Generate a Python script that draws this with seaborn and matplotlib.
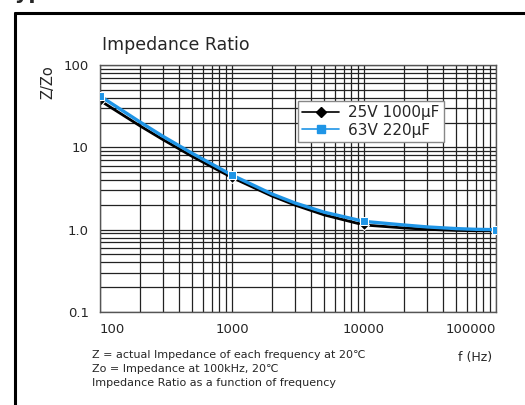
import matplotlib
matplotlib.use("Agg")
import matplotlib.pyplot as plt
from matplotlib.lines import Line2D
import seaborn as sns
import pandas as pd

# values
freq = [100, 200, 300, 500, 1000, 2000, 3000, 5000, 10000, 20000, 30000, 50000, 70000, 100000]
z_25v = [37, 18.3, 12.4, 7.75, 4.3, 2.57, 1.99, 1.51, 1.14, 1.05, 1.01, 0.98, 0.97, 0.97]
z_63v = [42, 20.4, 13.6, 8.45, 4.6, 2.72, 2.11, 1.63, 1.26, 1.14, 1.08, 1.03, 1.01, 1.0]
marker_freq = [100, 1000, 10000, 100000]
series_names = ['25V 1000µF', '63V 220µF']
x_ticks = [100, 1000, 10000, 100000]
x_labels = ['100', '1000', '10000', '100000']
y_ticks = [0.1, 1, 10, 100]
y_labels = ['0.1', '1.0', '10', '100']

df = pd.DataFrame({
    'f': freq * 2,
    'z': z_25v + z_63v,
    'series': [series_names[0]] * len(freq) + [series_names[1]] * len(freq),
})

sns.set_style('white')
plt.rcParams['font.family'] = ['DejaVu Sans']

fig = plt.figure(figsize=(5.25, 4.05), dpi=100)
ax = fig.add_axes([100 / 525, 1 - 312 / 405, 396 / 525, 247 / 405])

palette = {series_names[0]: 'black', series_names[1]: '#1f95e6'}
sns.lineplot(data=df, x='f', y='z', hue='series', palette=palette, ax=ax,
             legend=False, sort=True, estimator=None)
lines = ax.get_lines()
lines[0].set_linewidth(2.0)
lines[1].set_linewidth(2.4)
lines[1].set_zorder(4)
mk = [freq.index(v) for v in marker_freq]
lines[0].set_marker('D')
lines[0].set_markersize(5)
lines[0].set_markevery(mk)
lines[1].set_marker('s')
lines[1].set_markersize(6)
lines[1].set_markevery(mk)

ax.set_xscale('log')
ax.set_yscale('log')
ax.set_xlim(100, 100000)
ax.set_ylim(0.1, 100)
ax.grid(True, which='both', color='#222222', linewidth=0.9)
ax.set_axisbelow(True)
for s in ax.spines.values():
    s.set_color('#555555')
    s.set_linewidth(1.0)

ax.set_xticks(x_ticks)
ax.set_xticklabels(x_labels, fontsize=9.5)
ax.set_yticks(y_ticks)
ax.set_yticklabels(y_labels, fontsize=9.5)
ax.tick_params(axis='both', which='both', length=0, pad=8)
xl = ax.get_xticklabels()
xl[0].set_horizontalalignment('left')
xl[-1].set_horizontalalignment('right')
ax.set_xlabel('')
ax.set_ylabel('')

handles = [
    Line2D([], [], color='black', marker='D', markersize=5, linewidth=1.2),
    Line2D([], [], color='#1f95e6', marker='s', markersize=6, linewidth=1.2),
]
leg = ax.legend(handles, series_names, loc='upper left',
                bbox_to_anchor=(190 / 396, 1 - 28 / 247), fontsize=11,
                frameon=True, fancybox=False, framealpha=1, edgecolor='#888888',
                handlelength=2.4, borderpad=0.3, labelspacing=0.15, handletextpad=0.6)
leg.get_frame().set_linewidth(1.0)
leg.set_zorder(6)

fig.text(102 / 525, 1 - 50 / 405, 'Impedance Ratio', fontsize=12.5, va='baseline', ha='left')
fig.text(48 / 525, 1 - 82 / 405, 'Z/Zo', fontsize=10.5, rotation=90, va='center', ha='center')
fig.text(458 / 525, 1 - 357 / 405, 'f (Hz)', fontsize=9, va='center', ha='left')
fig.text(92 / 525, 1 - 355 / 405, 'Z = actual Impedance of each frequency at 20\u2103',
         fontsize=8, va='center', ha='left')
fig.text(92 / 525, 1 - 369 / 405, 'Zo = Impedance at 100kHz, 20\u2103',
         fontsize=8, va='center', ha='left')
fig.text(92 / 525, 1 - 383 / 405, 'Impedance Ratio as a function of frequency',
         fontsize=8, va='center', ha='left')

# cropped heading and outer frame
fig.text(4 / 525, 1 + 1 / 405, 'Typical', fontsize=15, fontweight='bold', va='baseline', ha='left')
fig.add_artist(Line2D([15 / 525, 15 / 525], [0, 1 - 12.5 / 405], color='black', linewidth=2.2,
                      transform=fig.transFigure))
fig.add_artist(Line2D([15 / 525, 1], [1 - 12.5 / 405, 1 - 12.5 / 405], color='black', linewidth=2.2,
                      transform=fig.transFigure))

fig.savefig('out.png', dpi=100, facecolor='white')
